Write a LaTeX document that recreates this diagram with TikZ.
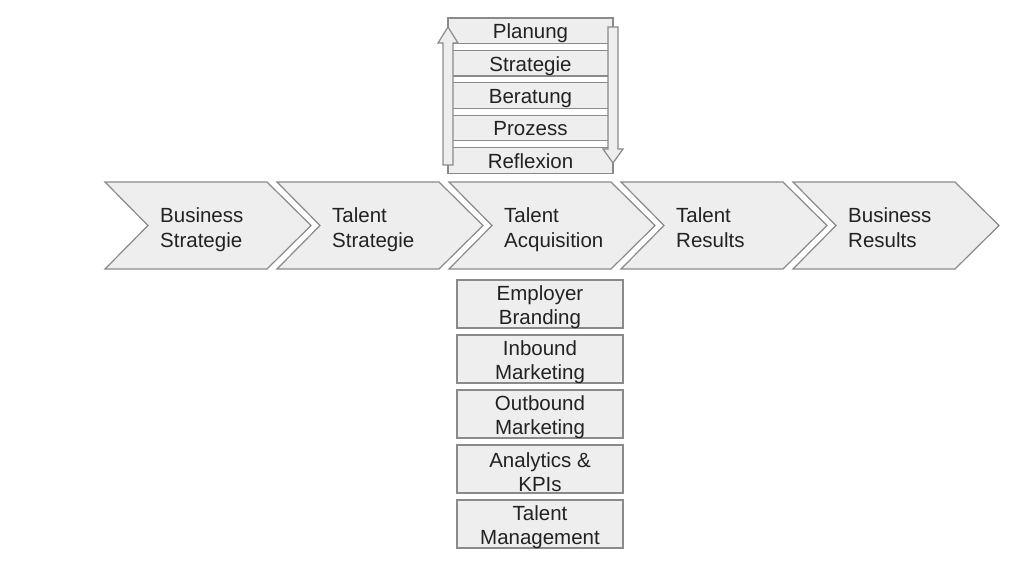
\documentclass[tikz,border=0pt]{standalone}
\usepackage{fontspec}
\setmainfont{Liberation Sans}
\definecolor{boxfill}{HTML}{EEEEEE}
\definecolor{boxline}{HTML}{8A8A8A}
\definecolor{boxtext}{HTML}{222222}
\begin{document}
\begin{tikzpicture}[x=1pt, y=-1pt,
  every node/.style={font=\fontsize{20.5}{24.5}\selectfont, text=boxtext},
  chev/.style={draw=boxline, fill=boxfill, line width=1.2pt},
  chevtext/.style={anchor=north west, align=left, inner sep=0pt},
  bar/.style={draw=boxline, fill=boxfill, line width=1.2pt, minimum width=165pt, minimum height=25.5pt, inner sep=0pt, text height=16pt, text depth=0pt},
  subbox/.style={draw=boxline, fill=boxfill, line width=1.2pt, minimum width=166pt, minimum height=48pt, inner sep=0pt}]
  \useasboundingbox (0,0) rectangle (1024,571);
  \foreach \x/\lab in {105/{Business\\Strategie}, 277/{Talent\\Strategie}, 449/{Talent\\Acquisition}, 621/{Talent\\Results}, 793/{Business\\Results}}{
    \draw[chev] (\x,182) -- (\x+162,182) -- (\x+206,225.5) -- (\x+162,269) -- (\x,269) -- (\x+43,225.5) -- cycle;
    \node[chevtext] (chev\x) at (\x+55,207.5) {\lab};
  }
  \draw[boxline, fill=white, line width=1.2pt] (448,18) rectangle (613,173);
  \foreach \lab [count=\k] in {Planung, Strategie, Beratung, Prozess, Reflexion}
    \node[bar] (bar\k) at (530.5,{32.4*\k-1.65}) {\lab};
  \draw[chev] (443,165) -- (443,43) -- (438,43) -- (448,27) -- (458,43) -- (453,43) -- (453,165) -- cycle;
  \draw[chev] (608,27) -- (608,149) -- (603,149) -- (613,163) -- (623,149) -- (618,149) -- (618,27) -- cycle;
  \foreach \y/\lab in {280/{Employer\\Branding}, 335/{Inbound\\Marketing}, 390/{Outbound\\Marketing}, 445/{Analytics \&\\KPIs}, 500/{Talent\\Management}}
    \node[subbox, label={[align=center, inner sep=0pt, yshift=-3pt]center:\lab}] (sub\y) at (540,\y+24) {};
\end{tikzpicture}
\end{document}
